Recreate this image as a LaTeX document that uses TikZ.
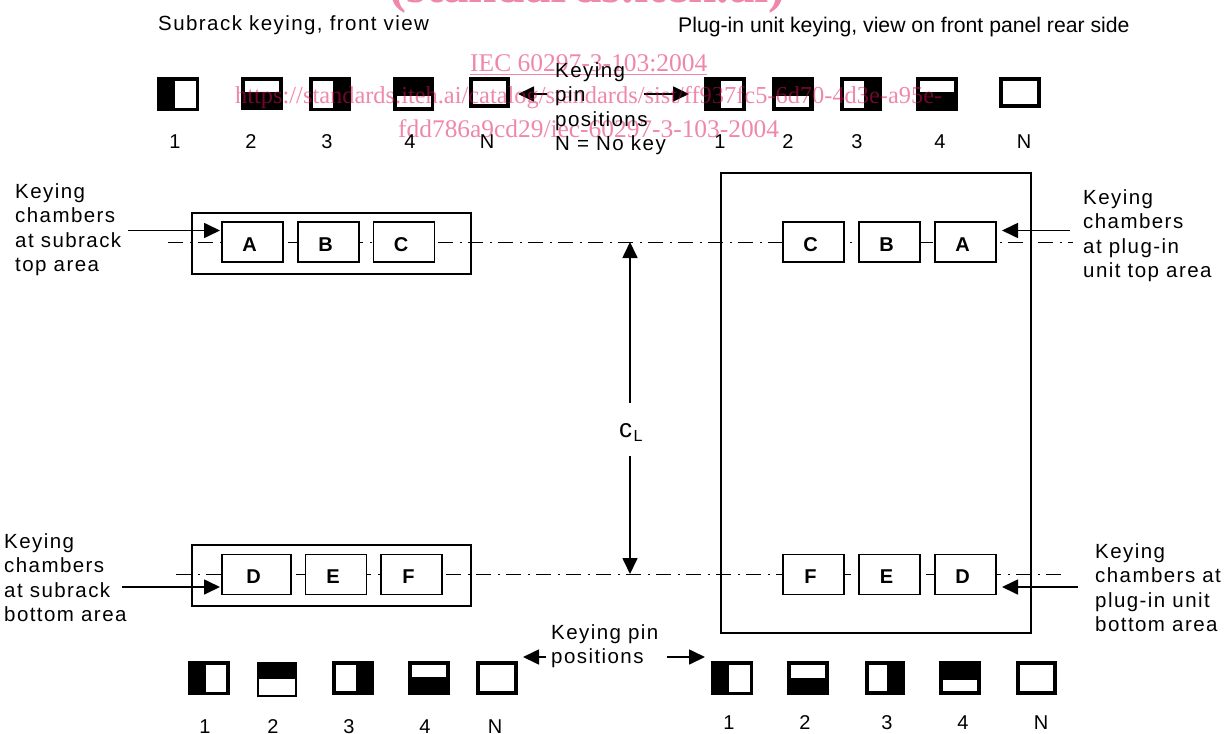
\documentclass[tikz,border=0pt]{standalone}
\usepackage{fontspec}
\setmainfont{Liberation Sans}
\newfontfamily\wmfont{Liberation Serif}
\usetikzlibrary{arrows.meta}
\definecolor{wmpink}{HTML}{E0105A}
\newcommand{\keyicon}[8]{%
  \fill[black] (#1,#2) rectangle (#3,#4);
  \fill[white] (#5,#6) rectangle (#7,#8);}
\newcommand{\klet}[1]{\kern-6pt #1}
\tikzset{
  x=1pt,y=-1pt,
  keybox/.style={draw,line width=1.8pt,fill=white,minimum height=40pt,inner sep=0pt,text height=20pt,text depth=1.6pt,font=\fontsize{20}{22}\selectfont\bfseries},
  housing/.style={draw,line width=1.8pt},
  cline/.style={line width=1.7pt,dash pattern=on 15pt off 7pt on 1.5pt off 6.5pt},
  pointer/.style={line width=1.7pt,-{Triangle[length=16pt,width=15pt]}},
  lbl/.style={inner sep=0pt,anchor=north west,align=left,font=\fontsize{20.5}{24.5}\selectfont\addfontfeatures{LetterSpace=7}},
  num/.style={inner sep=0pt,anchor=base,font=\fontsize{20}{22}\selectfont},
  wm/.style={inner sep=0pt,anchor=base west,text=wmpink,opacity=.5,text opacity=.5}
}
\begin{document}
\begin{tikzpicture}
\path[use as bounding box] (0,0) rectangle (1225,733);
% housings
\node[housing,minimum width=310pt,minimum height=460pt,inner sep=0pt] (unit) at (876,403) {};
\node[housing,minimum width=279pt,minimum height=61pt,inner sep=0pt] (rackT) at (331.5,243.5) {};
\node[housing,minimum width=279pt,minimum height=61pt,inner sep=0pt] (rackB) at (331.5,575.5) {};
% centre lines
\coordinate (tl) at (168,242.5); \coordinate (tr) at (1073,242.5);
\coordinate (bl) at (176,574.5); \coordinate (br) at (1068,574.5);
\draw[cline] (tl) -- (tr);
\draw[cline] (bl) -- (br);
% chambers
\node[keybox,minimum width=61pt] (A) at (252.5,242) {\klet{A}};
\node[keybox,minimum width=61pt] (B) at (328.5,242) {\klet{B}};
\node[keybox,minimum width=61pt] (C) at (404,242) {\klet{C}};
\node[keybox,minimum width=69pt] (D) at (256.5,574.5) {\klet{D}};
\node[keybox,minimum width=61pt] (E) at (336,574.5) {\klet{E}};
\node[keybox,minimum width=61pt] (F) at (411.5,574.5) {\klet{F}};
\node[keybox,minimum width=61pt] (C2) at (813.5,242) {\klet{C}};
\node[keybox,minimum width=61pt] (B2) at (889.5,242) {\klet{B}};
\node[keybox,minimum width=61pt] (A2) at (965.5,242) {\klet{A}};
\node[keybox,minimum width=61pt] (F2) at (813.5,574.5) {\klet{F}};
\node[keybox,minimum width=61pt] (E2) at (889.5,574.5) {\klet{E}};
\node[keybox,minimum width=61pt] (D2) at (965.5,574.5) {\klet{D}};
% top icons
\keyicon{157}{77}{199}{111}{175}{81}{196}{108}
\keyicon{241}{77}{283}{110}{245}{81}{279}{92}
\keyicon{309}{77}{351}{111}{313}{81}{333}{108}
\keyicon{393}{77}{434}{111}{397}{96}{431}{107}
\keyicon{469}{77}{510}{108}{473}{81}{506}{104}
\keyicon{704}{77}{746}{111}{721}{81}{742}{108}
\keyicon{772}{77}{814}{111}{776}{96}{809}{107}
\keyicon{840}{77}{882}{111}{844}{81}{864}{108}
\keyicon{916}{77}{958}{111}{920}{81}{954}{92}
\keyicon{999}{77}{1041}{108}{1003}{81}{1037}{104}
% bottom icons
\keyicon{188}{661}{230}{695}{206}{665}{226}{692}
\keyicon{257}{662}{297}{697}{259}{679}{295}{695}
\keyicon{332}{661}{374}{695}{336}{665}{356}{691}
\keyicon{408}{661}{450}{695}{412}{665}{446}{677}
\keyicon{476}{661}{518}{695}{480}{665}{514}{691}
\keyicon{711}{661}{753}{695}{729}{665}{750}{692}
\keyicon{787}{661}{829}{695}{791}{665}{825}{678}
\keyicon{865}{661}{905}{695}{869}{665}{887}{691}
\keyicon{939}{661}{981}{695}{943}{680}{977}{691}
\keyicon{1016}{661}{1057}{695}{1020}{665}{1053}{691}
% arrows
\coordinate (a1) at (128,230.5); \coordinate (a1e) at (220,230.5);
\coordinate (a2) at (1070,230.5); \coordinate (a2e) at (1002,230.5);
\coordinate (a3) at (122,587); \coordinate (a3e) at (220,587);
\coordinate (a4) at (1078,587); \coordinate (a4e) at (1002,587);
\draw[pointer] (a1) -- (a1e);
\draw[pointer] (a2) -- (a2e);
\draw[pointer] (a3) -- (a3e);
\draw[pointer] (a4) -- (a4e);
\coordinate (k1) at (547,94); \coordinate (k1e) at (518,94);
\coordinate (k2) at (644,94); \coordinate (k2e) at (689,94);
\coordinate (k3) at (546,657); \coordinate (k3e) at (523,657);
\coordinate (k4) at (667,657); \coordinate (k4e) at (705,657);
\draw[pointer] (k1) -- (k1e);
\draw[pointer] (k2) -- (k2e);
\draw[pointer] (k3) -- (k3e);
\draw[pointer] (k4) -- (k4e);
\node[inner sep=0pt,anchor=base west] (cl) at (619,437) {\fontsize{26}{28}\selectfont c\kern1.5pt\raisebox{-4pt}{\fontsize{16}{18}\selectfont L}};
\coordinate (clT) at (630,242); \coordinate (clB) at (630,574);
\coordinate (clTs) at (630,403); \coordinate (clBs) at (630,456);
\draw[pointer] (clTs) -- (clT);
\draw[pointer] (clBs) -- (clB);
% watermark
\node[wm,font=\wmfont\bfseries\fontsize{51}{54}\selectfont] (w0) at (389,3) {(standards.iteh.ai)};
\node[wm,font=\wmfont\fontsize{25.5}{27}\selectfont] (w1) at (470,72) {\underline{IEC 60297-3-103:2004}};
\node[wm,font=\wmfont\fontsize{24.4}{27}\selectfont] (w2) at (235,104) {https://standards.iteh.ai/catalog/standards/sist/ff937fc5-6d70-4d3e-a95e-};
\node[wm,font=\wmfont\fontsize{25.4}{27}\selectfont] (w3) at (398,137) {fdd786a9cd29/iec-60297-3-103-2004};
% text
\node[lbl] (t1) at (158,15) {Subrack keying, front view};
\node[lbl,font=\fontsize{21.2}{24.5}\selectfont] (t2) at (678,17) {Plug-in unit keying, view on front panel rear side};
\node[lbl] (t3) at (555,62) {Keying\\pin\\positions\\N = No key};
\node[lbl] (t4) at (15,183) {Keying\\chambers\\at subrack\\top area};
\node[lbl] (t5) at (1083,189) {Keying\\chambers\\at plug-in\\unit top area};
\node[lbl] (t6) at (4,533) {Keying\\chambers\\at subrack\\bottom area};
\node[lbl] (t7) at (1095,543) {Keying\\chambers at\\plug-in unit\\bottom area};
\node[lbl] (t8) at (551,624) {Keying pin\\positions};
% numbers
\foreach \n/\px/\lab in {n1/175/1,n2/251/2,n3/327/3,n4/410/4,n5/487/N,n6/720/1,n7/788/2,n8/857/3,n9/940/4,n10/1024/N}
  \node[num] (\n) at (\px,148) {\lab};
\foreach \n/\px/\lab in {m1/205/1,m2/273/2,m3/349/3,m4/425/4,m5/495/N}
  \node[num] (\n) at (\px,733) {\lab};
\foreach \n/\px/\lab in {m6/729/1,m7/805/2,m8/887/3,m9/963/4,m10/1041/N}
  \node[num] (\n) at (\px,729) {\lab};
\end{tikzpicture}
\end{document}
